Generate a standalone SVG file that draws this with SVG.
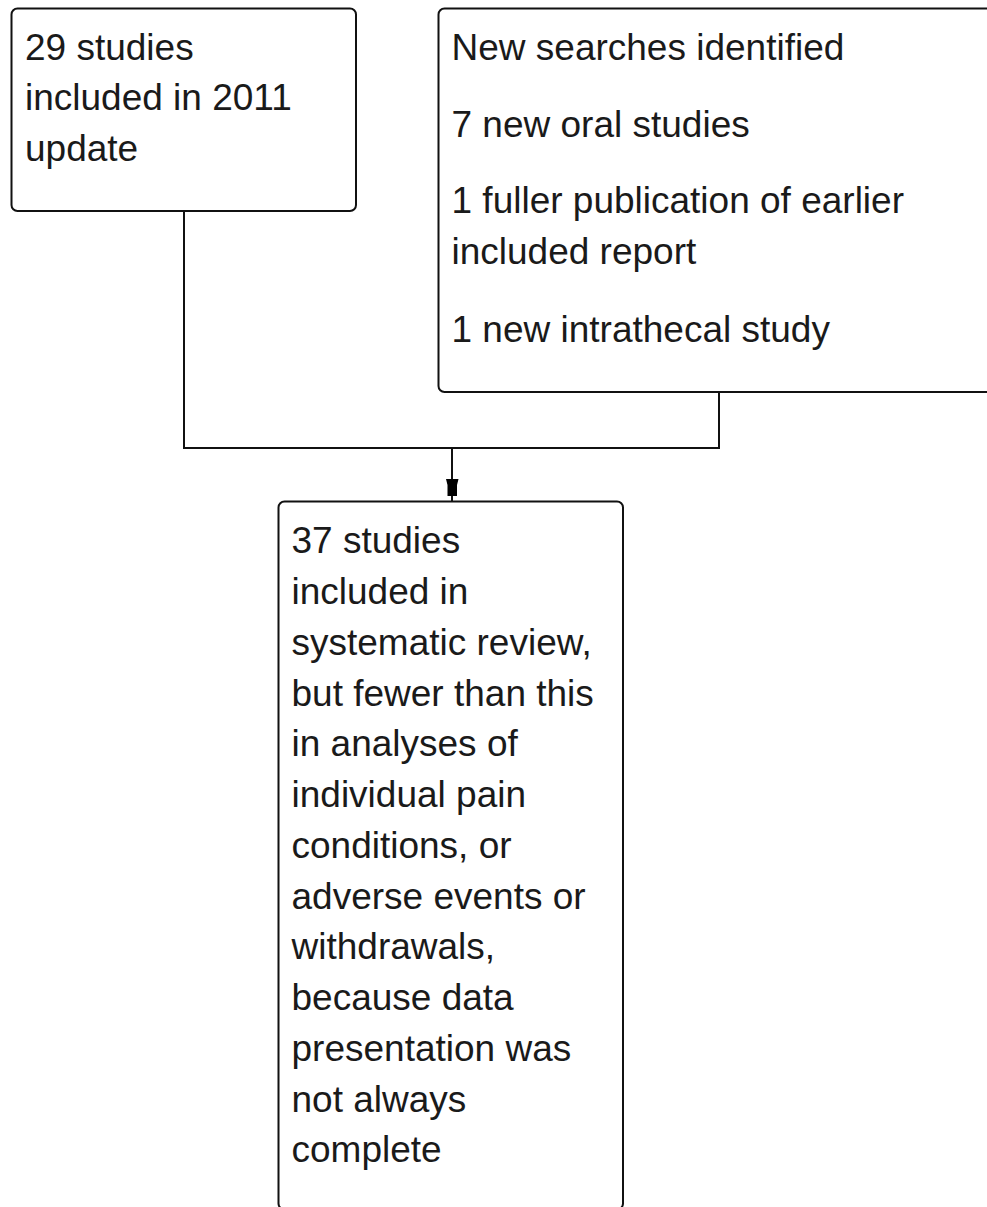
<svg xmlns="http://www.w3.org/2000/svg" width="987" height="1207" viewBox="0 0 987 1207">
<style>
.box{fill:#ffffff;stroke:#111;stroke-width:2}
.lbl{font-family:"Liberation Sans",Arial,sans-serif;font-size:37px;fill:#1a1a1a}
.conn{fill:none;stroke:#111;stroke-width:2}
</style>
<defs>
<marker id="arr" markerUnits="userSpaceOnUse" markerWidth="16" markerHeight="20" refX="6" refY="17" orient="auto-start-reverse" viewBox="0 0 12 20">
<path d="M0,0 L12,0 L10.5,5 L10.5,17 L1.5,17 L1.5,5 Z" fill="#000"/>
</marker>
</defs>
<rect width="987" height="1207" fill="#ffffff"/>
<g id="connectors">
<polyline class="conn" points="184,211 184,448 719,448 719,392"/>
<line class="conn" x1="452" y1="448" x2="452" y2="501.5"/>
<path d="M446,479 L458.5,479 L457,485 L457,496 L447.5,496 L447.5,485 Z" fill="#000"/>
</g>
<g id="node1">
<rect class="box" x="11.5" y="8.5" width="344.5" height="202.5" rx="6"/>
<text class="lbl" x="25" y="59.5">29 studies</text>
<text class="lbl" x="25" y="110.2">included in 2011</text>
<text class="lbl" x="25" y="160.9">update</text>
</g>
<g id="node2">
<rect class="box" x="438.5" y="8.5" width="600" height="383.5" rx="6"/>
<text class="lbl" x="451.5" y="60">New searches identified</text>
<text class="lbl" x="451.5" y="136.7">7 new oral studies</text>
<text class="lbl" x="451.5" y="213.3">1 fuller publication of earlier</text>
<text class="lbl" x="451.5" y="264.2">included report</text>
<text class="lbl" x="451.5" y="341.5">1 new intrathecal study</text>
</g>
<g id="node3">
<rect class="box" x="278.5" y="501.5" width="344.5" height="708" rx="6"/>
<text class="lbl" x="291.5" y="553.3">37 studies</text>
<text class="lbl" x="291.5" y="604.1">included in</text>
<text class="lbl" x="291.5" y="654.8">systematic review,</text>
<text class="lbl" x="291.5" y="705.6">but fewer than this</text>
<text class="lbl" x="291.5" y="756.3">in analyses of</text>
<text class="lbl" x="291.5" y="807.1">individual pain</text>
<text class="lbl" x="291.5" y="857.8">conditions, or</text>
<text class="lbl" x="291.5" y="908.6">adverse events or</text>
<text class="lbl" x="291.5" y="959.3">withdrawals,</text>
<text class="lbl" x="291.5" y="1010.1">because data</text>
<text class="lbl" x="291.5" y="1060.8">presentation was</text>
<text class="lbl" x="291.5" y="1111.6">not always</text>
<text class="lbl" x="291.5" y="1162.3">complete</text>
</g>
</svg>
